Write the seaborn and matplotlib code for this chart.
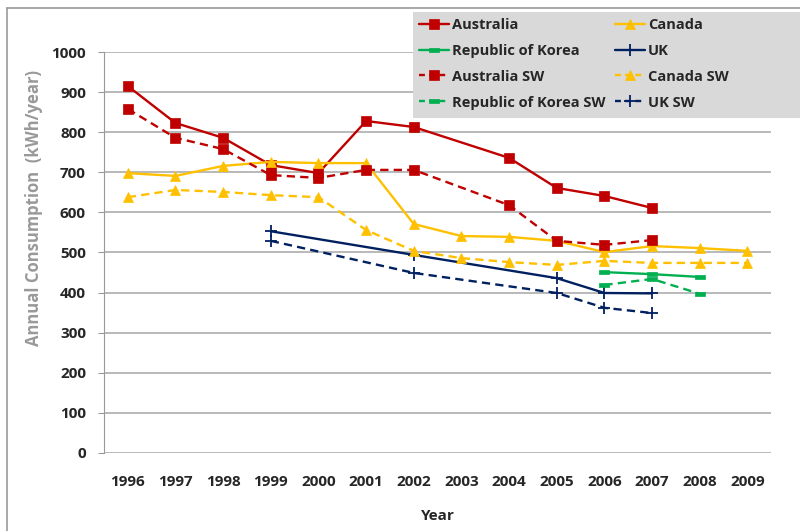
import numpy as np
import pandas as pd
import matplotlib
matplotlib.use("Agg")
import matplotlib.pyplot as plt
import seaborn as sns
from matplotlib.lines import Line2D
from matplotlib.patches import Rectangle

years = list(range(1996, 2010))
nan = np.nan

australia = [915, 823, 786, 718, 698, 828, 813, nan, 736, 661, 641, 611, nan, nan]
canada = [698, 691, 716, 726, 723, 723, 571, 541, 539, 529, 501, 516, 511, 504]
korea = [nan] * 10 + [451, 446, 439, nan]
uk = [nan, nan, nan, 553, nan, nan, 494, nan, nan, 436, 399, 398, nan, nan]
australia_sw = [858, 786, 758, 693, 686, 706, 706, nan, 618, 529, 519, 531, nan, nan]
canada_sw = [638, 656, 651, 643, 638, 556, 504, 486, 476, 469, 479, 474, 474, 474]
korea_sw = [nan] * 10 + [419, 434, 397, nan]
uk_sw = [nan, nan, nan, 529, nan, nan, 449, nan, nan, 399, 362, 349, nan, nan]

series = {
    "Australia": australia,
    "Canada": canada,
    "Republic of Korea": korea,
    "UK": uk,
    "Australia SW": australia_sw,
    "Canada SW": canada_sw,
    "Republic of Korea SW": korea_sw,
    "UK SW": uk_sw,
}

# flat rectangle marker used by Excel for the Korea series
bar = [(-1, -0.45), (1, -0.45), (1, 0.45), (-1, 0.45), (-1, -0.45)]

# colour, marker, size, dashed
styles = {
    "Australia": ("#c00000", "s", 6.5, False),
    "Canada": ("#ffc000", "^", 7, False),
    "Republic of Korea": ("#00b050", bar, 7, False),
    "UK": ("#002060", "+", 8, False),
    "Australia SW": ("#c00000", "s", 6.5, True),
    "Canada SW": ("#ffc000", "^", 7, True),
    "Republic of Korea SW": ("#00b050", bar, 7, True),
    "UK SW": ("#002060", "+", 8, True),
}

sns.set_style("white")
plt.rcParams["font.family"] = ["Open Sans", "DejaVu Sans"]

fig = plt.figure(figsize=(8, 5.31), dpi=100)
ax = fig.add_axes([0.13, 0.147, 0.834, 0.755])

handles = {}
for name, vals in series.items():
    d = pd.DataFrame({"year": years, "value": vals}).dropna()
    color, marker, ms, dashed = styles[name]
    mew = 1.3 if marker == "+" else 0.5
    ls = (0, (3.5, 2.2)) if dashed else "-"
    sns.lineplot(data=d, x="year", y="value", ax=ax, color=color, lw=1.7,
                 marker=marker, markersize=ms, markeredgecolor=color,
                 markeredgewidth=mew, linestyle=ls)
    handles[name] = Line2D([], [], color=color, lw=1.7, marker=marker, markersize=ms,
                           markeredgecolor=color, markeredgewidth=mew,
                           linestyle=(0, (2.5, 1.8)) if dashed else "-")

ax.set_xlim(1995.5, 2009.5)
ax.set_ylim(0, 1000)
ax.set_xticks(years)
ax.set_yticks(range(0, 1001, 100))
ax.tick_params(axis="x", length=0, pad=16, labelsize=11)
ax.tick_params(axis="y", length=4, color="#999999", left=True, pad=9, labelsize=11)
for lab in ax.get_xticklabels() + ax.get_yticklabels():
    lab.set_fontweight("bold")
ax.grid(axis="y", color="#a6a6a6", lw=1.1)
ax.set_axisbelow(True)
for s in ["top", "right", "bottom"]:
    ax.spines[s].set_visible(False)
ax.spines["left"].set_color("#999999")
ax.set_xlabel("Year", fontsize=11, fontweight="bold", labelpad=14)
ax.set_ylabel("Annual Consumption  (kWh/year)", fontsize=12, fontweight="bold",
              color="#999999")
ax.yaxis.set_label_coords(-0.092, 0.61)

# legend background spanning to the right edge
fig.add_artist(Rectangle((413 / 800, 1 - 118 / 531), 387 / 800, 106 / 531,
                         transform=fig.transFigure, facecolor="#d9d9d9",
                         edgecolor="none", zorder=1))

order = ["Australia", "Republic of Korea", "Australia SW", "Republic of Korea SW",
         "Canada", "UK", "Canada SW", "UK SW"]
leg = fig.legend([handles[n] for n in order], order, ncol=2, loc="upper left",
                 bbox_to_anchor=(0.518, 0.975), frameon=False,
                 prop={"weight": "bold", "size": 10.5}, handlelength=2.1,
                 handletextpad=0.2, columnspacing=0.6, labelspacing=0.82,
                 borderpad=0.3, borderaxespad=0)
leg.set_zorder(2)

# outer chart border
fig.add_artist(Line2D([0.009, 0.009], [0, 0.985], color="#999999", lw=1.2,
                      transform=fig.transFigure))
fig.add_artist(Line2D([0.009, 1.0], [0.985, 0.985], color="#999999", lw=1.2,
                      transform=fig.transFigure))

fig.savefig("out.png", dpi=100)
